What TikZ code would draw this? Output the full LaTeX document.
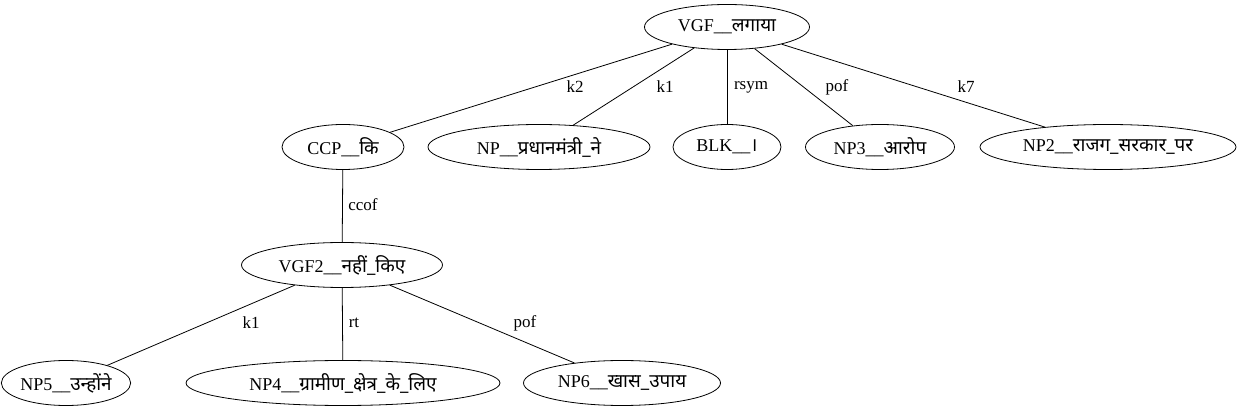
\documentclass[tikz,border=0pt]{standalone}
\usepackage{fontspec}
\setmainfont{Liberation Serif}
\newfontfamily\deva[Script=Devanagari,Scale=1.05]{Noto Sans}
\usetikzlibrary{shapes.geometric}
\begin{document}
\begin{tikzpicture}[
    x=1pt,
    y=-1pt,
    every node/.style={
        font=\fontsize{18}{21}\selectfont
    },
    word/.style={
        draw=black,
        ellipse,
        line width=0.8pt,
        inner sep=0pt,
        minimum height=45pt,
        minimum width=#1
    },
    rel/.style={inner sep=1pt, font=\fontsize{17}{20}\selectfont},
    link/.style={line width=0.8pt}
]
\useasboundingbox (0,0) rectangle (1240,411);

% Chunks, one row after the other
\node[word=165pt] (vgf)  at (727,27)  {VGF\_\_{\deva लगाया}};
\node[word=122pt] (ccp)  at (343,147) {CCP\_\_{\deva कि}};
\node[word=222pt] (np)   at (539,147) {NP\_\_{\deva प्रधानमंत्री\_ने}};
\node[word=108pt] (blk)  at (727,147) {BLK\_\_{\deva ।}};
\node[word=149pt] (np3)  at (880,147) {NP3\_\_{\deva आरोप}};
\node[word=256pt] (np2)  at (1108,147) {NP2\_\_{\deva राजग\_सरकार\_पर}};
\node[word=201pt] (vgf2) at (342,265) {VGF2\_\_{\deva नहीं\_किए}};
\node[word=124pt] (np5)  at (66,383)  {NP5\_\_{\deva उन्होंने}};
\node[word=314pt] (np4)  at (343,383) {NP4\_\_{\deva ग्रामीण\_क्षेत्र\_के\_लिए}};
\node[word=197pt] (np6)  at (622,383) {NP6\_\_{\deva खास\_उपाय}};

% Dependency links
\foreach \from/\to in {vgf/ccp, vgf/np, vgf/blk, vgf/np3, vgf/np2,
    ccp/vgf2, vgf2/np5, vgf2/np4, vgf2/np6}{
    \draw[link] (\from) -- (\to);
}

% Relation labels
\foreach \name/\x/\y/\txt in {k2/575/87/k2, k1/665/87/k1, rsym/751/87/rsym,
    pof/837/87/pof, k7/966/87/k7, ccof/363/205/ccof,
    k1b/251/323/k1, rt/354/323/rt, pofb/525/323/pof}{
    \node[rel] (\name) at (\x,\y) {\txt};
}
\end{tikzpicture}
\end{document}
